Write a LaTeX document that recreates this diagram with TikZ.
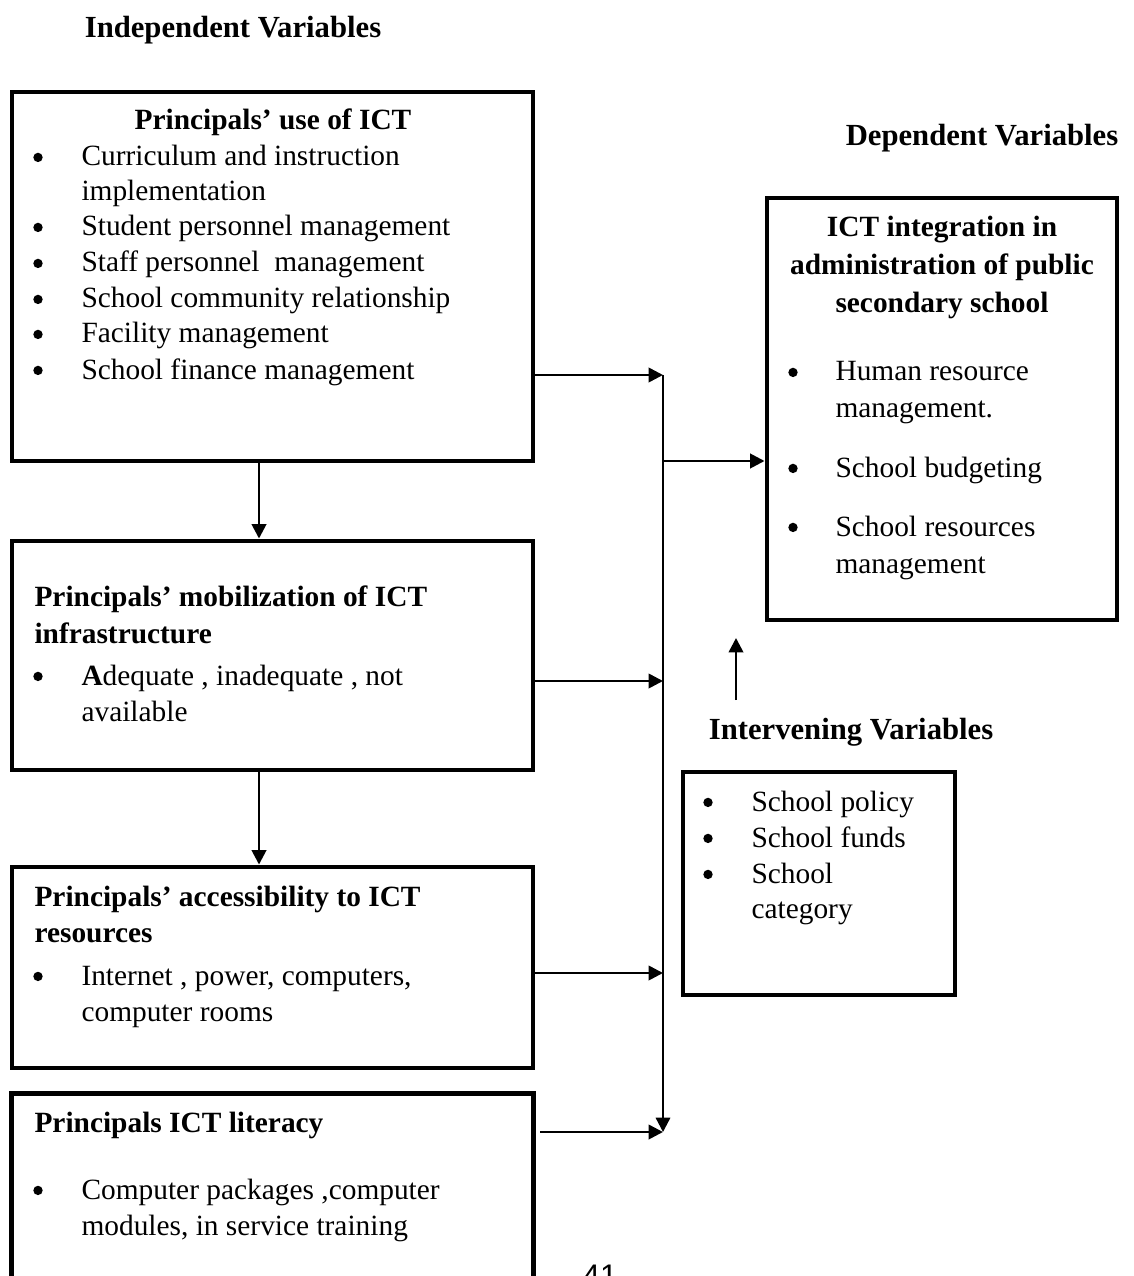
\documentclass[tikz,border=0pt]{standalone}
\usepackage{fontspec}
\setmainfont{Liberation Serif}
\newfontfamily\numfont{Liberation Sans}
\usetikzlibrary{arrows.meta,fit}
\newcommand{\bodyfont}{\fontsize{11.3}{13.5}\selectfont}
\newcommand{\headfont}{\fontsize{11.8}{14}\selectfont\bfseries}
\begin{document}
\begin{tikzpicture}[x=0.3846pt,y=-0.3846pt,
  box/.style={draw,line width=1.9pt,inner sep=0pt},
  area/.style={inner sep=0pt},
  arr/.style={-{Triangle[length=5.5pt,width=5.5pt]},line width=1pt},
  bus/.style={line width=0.9pt},
  txt/.style={anchor=base west,inner sep=0pt,font=\bodyfont},
  ttl/.style={anchor=base,inner sep=0pt,font=\bodyfont\bfseries},
  ttlw/.style={anchor=base west,inner sep=0pt,font=\bodyfont\bfseries},
  hd/.style={anchor=base,inner sep=0pt,font=\headfont},
  bul/.style={circle,fill=black,inner sep=0pt,minimum size=3.6pt,yshift=3.3pt}]
\useasboundingbox (0,0) rectangle (1134,1276);
\clip (0,0) rectangle (1134,1276);
\fill[white] (0,0) rectangle (1134,1276);

% headings
\node[hd] (hInd) at (233,38) {Independent Variables};
\node[hd] (hDep) at (982,146) {Dependent Variables};
\node[hd] (hInt) at (851,739) {Intervening Variables};

% Box 1
\node[box,fit={(12,92) (533,461)}] (b1) {};
\node[ttl] (b1t) at (273,130) {Principals’ use of ICT};
\node[bul] (b1a) at (38,166) {};
\node[txt] (b1at) at (81,166) {Curriculum and instruction};
\node[txt] (b1at2) at (81,201) {implementation};
\node[bul] (b1b) at (38,236) {};
\node[txt] (b1bt) at (81,236) {Student personnel management};
\node[bul] (b1c) at (38,272) {};
\node[txt] (b1ct) at (81,272) {Staff personnel\ \ management};
\node[bul] (b1d) at (38,308) {};
\node[txt] (b1dt) at (81,308) {School community relationship};
\node[bul] (b1e) at (38,343) {};
\node[txt] (b1et) at (81,343) {Facility management};
\node[bul] (b1f) at (38,379) {};
\node[txt] (b1ft) at (81,379) {School finance management};

% Box 2
\node[box,fit={(12,541) (533,770)}] (b2) {};
\node[ttlw] (b2t) at (34,606) {Principals’ mobilization of ICT};
\node[ttlw] (b2t2) at (34,643) {infrastructure};
\node[bul] (b2a) at (38,685) {};
\node[txt] (b2at) at (81,685) {\textbf{A}dequate , inadequate , not};
\node[txt] (b2at2) at (81,721) {available};

% Box 3
\node[box,fit={(12,867) (533,1068)}] (b3) {};
\node[ttlw] (b3t) at (34,906) {Principals’ accessibility to ICT};
\node[ttlw] (b3t2) at (34,942) {resources};
\node[bul] (b3a) at (38,985) {};
\node[txt] (b3at) at (81,985) {Internet , power, computers,};
\node[txt] (b3at2) at (81,1021) {computer rooms};

% Box 4 (open at the bottom)
\node[area,fit={(12,1094) (533,1300)}] (b4) {};
\draw[line width=1.9pt] (b4.south west) -- (b4.north west) -- (b4.north east) -- (b4.south east);
\node[ttlw] (b4t) at (34,1132) {Principals ICT literacy};
\node[bul] (b4a) at (38,1199) {};
\node[txt] (b4at) at (81,1199) {Computer packages ,computer};
\node[txt] (b4at2) at (81,1235) {modules, in service training};

% Dependent box
\node[box,fit={(767,198) (1117,620)}] (dep) {};
\node[ttl] (dept1) at (942,237) {ICT integration in};
\node[ttl] (dept2) at (942,275) {administration of public};
\node[ttl] (dept3) at (942,313) {secondary school};
\node[bul] (depa) at (793,381) {};
\node[txt] (depat) at (835,381) {Human resource};
\node[txt] (depat2) at (835,418) {management.};
\node[bul] (depb) at (793,477) {};
\node[txt] (depbt) at (835,477) {School budgeting};
\node[bul] (depc) at (793,536) {};
\node[txt] (depct) at (835,536) {School resources};
\node[txt] (depct2) at (835,573) {management};

% Intervening box
\node[box,fit={(683,772) (955,995)}] (int) {};
\node[bul] (inta) at (708,811) {};
\node[txt] (intat) at (751,811) {School policy};
\node[bul] (intb) at (708,847) {};
\node[txt] (intbt) at (751,847) {School funds};
\node[bul] (intc) at (708,883) {};
\node[txt] (intct) at (751,883) {School};
\node[txt] (intct2) at (751,918) {category};

% page number
\node[anchor=base,inner sep=0pt,font=\numfont\fontsize{12}{14}\selectfont] (pg) at (600,1286) {41};

% connectors
\coordinate (j1) at (663,375);
\coordinate (j2) at (663,681);
\coordinate (j3) at (663,973);
\coordinate (j4) at (663,1132);
\coordinate (jm) at (664,461);
\coordinate (b4e) at (540,1132);
\draw[arr] (b1.east |- j1) -- (j1);
\draw[arr] (b2.east |- j2) -- (j2);
\draw[arr] (b3.east |- j3) -- (j3);
\draw[arr] (b4e) -- (j4);
\draw[bus,-{Triangle[length=5.5pt,width=5.5pt]}] (j1) -- (j4);
\draw[arr] (jm) -- (dep.west |- jm);
\draw[arr] (b1.south -| 259,0) -- (b2.north -| 259,0);
\draw[arr] (b2.south -| 259,0) -- (b3.north -| 259,0);
\coordinate (u1) at (736,700);
\coordinate (u2) at (736,638);
\draw[arr] (u1) -- (u2);
\end{tikzpicture}
\end{document}
